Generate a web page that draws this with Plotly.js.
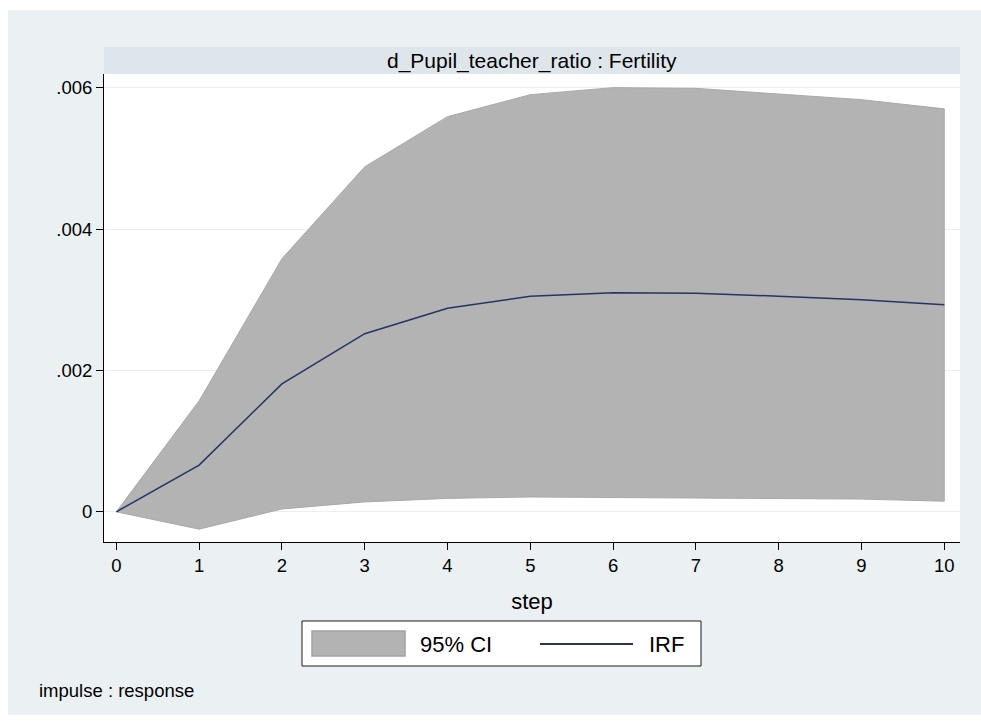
<!DOCTYPE html>
<html>
<head>
<meta charset="utf-8">
<script src="https://cdn.plot.ly/plotly-3.0.1.min.js"></script>
<style>
html,body{margin:0;padding:0;background:#ffffff;}
#chart{position:absolute;left:8px;top:10px;width:973px;height:705px;}
</style>
</head>
<body>
<div id="chart"></div>
<script>
const steps = [0,1,2,3,4,5,6,7,8,9,10];
const irf   = [0,0.00066,0.00181,0.00252,0.00288,0.00305,0.00310,0.00309,0.00305,0.00300,0.00293];
const ciLower = [0,-0.000245,0.00004,0.00014,0.00019,0.00021,0.00021,0.00020,0.00019,0.00018,0.00015];
const ciUpper = [0,0.00157,0.00358,0.00488,0.00559,0.00590,0.00600,0.00599,0.00591,0.00583,0.00570];
const yTickVals = [0,0.002,0.004,0.006];
const yTickText = ["0",".002",".004",".006"];
const panelTitle = "d_Pupil_teacher_ratio : Fertility";
const legendLabels = ["95% CI","IRF"];
const noteText = "impulse : response";

const FONT = "Liberation Sans, Arial, Helvetica, sans-serif";
const BG = "#EBF0F3";

const polyX = steps.concat(steps.slice().reverse());
const polyY = ciUpper.concat(ciLower.slice().reverse());

const traces = [
  {x: polyX, y: polyY, type:'scatter', mode:'lines', fill:'toself',
   fillcolor:'#B3B3B3', line:{color:'#A9A9A9', width:1}, hoverinfo:'skip', showlegend:false},
  {x: steps, y: irf, type:'scatter', mode:'lines',
   line:{color:'#263463', width:1.5}, showlegend:false}
];

const W = 973, H = 705;
const mL = 96, mR = 21, mT = 64, mB = 173;
const pw = W - mL - mR, ph = H - mT - mB;
function px2x(p){ return (p - 8 - mL) / pw; }
function py2y(p){ return 1 - (p - 10 - mT) / ph; }

const layout = {
  width: W, height: H,
  margin: {l:mL, r:mR, t:mT, b:mB, pad:0},
  paper_bgcolor: BG, plot_bgcolor: '#ffffff',
  font: {family: FONT, color:'#000000', size:18},
  showlegend: false,
  xaxis: {
    range: [-0.149, 10.19], tickvals: steps, ticktext: steps.map(String),
    ticks:'outside', ticklen:7, tickwidth:1, tickcolor:'#000',
    showline:true, linecolor:'#000', linewidth:1, showgrid:false, zeroline:false,
    tickfont:{size:18.5, family:FONT},
    title:{text:'step', font:{size:22, family:FONT}, standoff:18}
  },
  yaxis: {
    range: [-0.000427, 0.006193], tickvals: yTickVals, ticktext: yTickText,
    ticks:'outside', ticklen:7, tickwidth:1, tickcolor:'#000',
    showline:true, linecolor:'#000', linewidth:1,
    showgrid:true, gridcolor:'#E9F0F2', gridwidth:1, zeroline:false,
    tickfont:{size:18.5, family:FONT}
  },
  shapes: [
    {type:'rect', xref:'paper', yref:'paper', x0:0, x1:1, y0:1, y1:1+27/ph,
     fillcolor:'#DFE6EB', line:{width:0}, layer:'below'},
    {type:'rect', xref:'paper', yref:'paper', x0:px2x(302), x1:px2x(701), y0:py2y(666), y1:py2y(621),
     fillcolor:'#ffffff', line:{color:'#1a1a1a', width:1}},
    {type:'rect', xref:'paper', yref:'paper', x0:px2x(312), x1:px2x(405), y0:py2y(656), y1:py2y(631),
     fillcolor:'#B3B3B3', line:{color:'#A3A3A3', width:1.5}},
    {type:'line', xref:'paper', yref:'paper', x0:px2x(540), x1:px2x(633), y0:py2y(644), y1:py2y(644),
     line:{color:'#263463', width:1.8}}
  ],
  annotations: [
    {text: panelTitle, xref:'paper', yref:'paper', x:0.5, y:1+13.5/ph, xanchor:'center', yanchor:'middle',
     showarrow:false, font:{size:21, family:FONT}},
    {text: legendLabels[0], xref:'paper', yref:'paper', x:px2x(418), y:py2y(644), xanchor:'left', yanchor:'middle',
     showarrow:false, font:{size:22, family:FONT}},
    {text: legendLabels[1], xref:'paper', yref:'paper', x:px2x(647), y:py2y(644), xanchor:'left', yanchor:'middle',
     showarrow:false, font:{size:22, family:FONT}},
    {text: noteText, xref:'paper', yref:'paper', x:px2x(37), y:py2y(690), xanchor:'left', yanchor:'middle',
     showarrow:false, font:{size:18.5, family:FONT}}
  ]
};

Plotly.newPlot('chart', traces, layout, {displayModeBar:false, responsive:false});
</script>
</body>
</html>
